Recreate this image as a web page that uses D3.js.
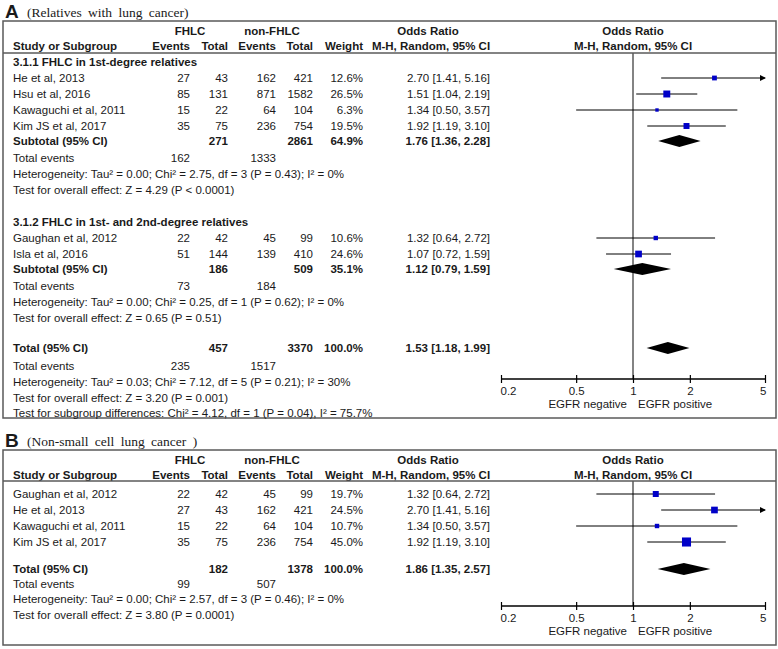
<!DOCTYPE html>
<html><head><meta charset="utf-8">
<script src="https://cdn.jsdelivr.net/npm/d3@7"></script>
<style>
body{margin:0;background:#fff;}
text{font-family:"Liberation Sans",Arial,sans-serif;fill:#1a1a1a;}
</style></head>
<body><svg id="c" width="778" height="649"></svg>
<script>
// ---- Panel A data ----
const studiesA1 = ["He et al, 2013","Hsu et al, 2016","Kawaguchi et al, 2011","Kim JS et al, 2017"];
const evFA1 = [27,85,15,35];
const totFA1 = [43,131,22,75];
const evNA1 = [162,871,64,236];
const totNA1 = [421,1582,104,754];
const weightA1 = [12.6,26.5,6.3,19.5];
const orA1 = [2.70,1.51,1.34,1.92];
const loA1 = [1.41,1.04,0.50,1.19];
const hiA1 = [5.16,2.19,3.57,3.10];
const subA1 = {tf:271, tn:2861, w:64.9, or:1.76, lo:1.36, hi:2.28, ef:162, en:1333};
const footA1 = ["Heterogeneity: Tau\u00b2 = 0.00; Chi\u00b2 = 2.75, df = 3 (P = 0.43); I\u00b2 = 0%","Test for overall effect: Z = 4.29 (P < 0.0001)"];

const studiesA2 = ["Gaughan et al, 2012","Isla et al, 2016"];
const evFA2 = [22,51];
const totFA2 = [42,144];
const evNA2 = [45,139];
const totNA2 = [99,410];
const weightA2 = [10.6,24.6];
const orA2 = [1.32,1.07];
const loA2 = [0.64,0.72];
const hiA2 = [2.72,1.59];
const subA2 = {tf:186, tn:509, w:35.1, or:1.12, lo:0.79, hi:1.59, ef:73, en:184};
const footA2 = ["Heterogeneity: Tau\u00b2 = 0.00; Chi\u00b2 = 0.25, df = 1 (P = 0.62); I\u00b2 = 0%","Test for overall effect: Z = 0.65 (P = 0.51)"];

const totalA = {tf:457, tn:3370, w:100.0, or:1.53, lo:1.18, hi:1.99, ef:235, en:1517};
const footA = ["Heterogeneity: Tau\u00b2 = 0.03; Chi\u00b2 = 7.12, df = 5 (P = 0.21); I\u00b2 = 30%","Test for overall effect: Z = 3.20 (P = 0.001)","Test for subgroup differences: Chi\u00b2 = 4.12, df = 1 (P = 0.04), I\u00b2 = 75.7%"];

// ---- Panel B data ----
const studiesB = ["Gaughan et al, 2012","He et al, 2013","Kawaguchi et al, 2011","Kim JS et al, 2017"];
const evFB = [22,27,15,35];
const totFB = [42,43,22,75];
const evNB = [45,162,64,236];
const totNB = [99,421,104,754];
const weightB = [19.7,24.5,10.7,45.0];
const orB = [1.32,2.70,1.34,1.92];
const loB = [0.64,1.41,0.50,1.19];
const hiB = [2.72,5.16,3.57,3.10];
const totalB = {tf:182, tn:1378, w:100.0, or:1.86, lo:1.35, hi:2.57, ef:99, en:507};
const footB = ["Heterogeneity: Tau\u00b2 = 0.00; Chi\u00b2 = 2.57, df = 3 (P = 0.46); I\u00b2 = 0%","Test for overall effect: Z = 3.80 (P = 0.0001)"];

const tickVals = [0.2,0.5,1,2,5];
const axisLabels = ["EGFR negative","EGFR positive"];

// ---- drawing ----
const svg = d3.select("#c");
const FS = 11.5;
const col = {name:13, ef:190, tf:228, en:276, tn:313, w:363, or:490};
const x = d3.scaleLog().domain([0.2,5]).range([501,765]);
const lineCol = "#5a5a5a";
const fmt2 = d3.format(".2f");
const fmtW = d3.format(".1f");

function txt(xx, yc, s, anchor, bold){
  svg.append("text").attr("x",xx).attr("y",yc+4).attr("text-anchor",anchor||"start")
    .attr("font-size",FS).attr("font-weight",bold?"bold":"normal").text(s);
}
function orStr(o,l,h){return fmt2(o)+" ["+fmt2(l)+", "+fmt2(h)+"]";}

function study(yc, name, ef, tf, en, tn, w, o, l, h){
  txt(col.name,yc,name);
  txt(col.ef,yc,ef,"end"); txt(col.tf,yc,tf,"end");
  txt(col.en,yc,en,"end"); txt(col.tn,yc,tn,"end");
  txt(col.w,yc,fmtW(w)+"%","end");
  txt(col.or,yc,orStr(o,l,h),"end");
  const hiC = Math.min(h,5);
  svg.append("line").attr("x1",x(l)).attr("x2",x(hiC)).attr("y1",yc).attr("y2",yc)
    .attr("stroke","#000").attr("stroke-width",1);
  if(h>5){
    const xe = x(5);
    svg.append("path").attr("d",`M${xe+1},${yc} L${xe-5},${yc-3} L${xe-5},${yc+3} Z`).attr("fill","#000");
  }
  const s = 1.35*Math.sqrt(w);
  svg.append("rect").attr("x",x(o)-s/2).attr("y",yc-s/2).attr("width",s).attr("height",s).attr("fill","#0000c8");
}
function summary(yc, label, d){
  txt(col.name,yc,label,"start",true);
  txt(col.tf,yc,d.tf,"end",true); txt(col.tn,yc,d.tn,"end",true);
  txt(col.w,yc,fmtW(d.w)+"%","end",true);
  txt(col.or,yc,orStr(d.or,d.lo,d.hi),"end",true);
  svg.append("path").attr("d",`M${x(d.lo)},${yc} L${x(d.or)},${yc-6} L${x(d.hi)},${yc} L${x(d.or)},${yc+6} Z`).attr("fill","#000");
}
function totEvents(yc, d){
  txt(col.name,yc,"Total events"); txt(col.ef,yc,d.ef,"end"); txt(col.en,yc,d.en,"end");
}
function header(top, lineY, letter, sub){
  svg.append("text").attr("x",5).attr("y",top-3).attr("font-size",19).attr("font-weight","bold").text(letter);
  svg.append("text").attr("x",27).attr("y",top-4).attr("font-size",13.5).attr("word-spacing","3px")
    .style("font-family","'Liberation Serif','Times New Roman',serif").text(sub);
  const r1 = top+10, r2 = top+25;
  txt(190,r1,"FHLC","middle",true);
  txt(272,r1,"non-FHLC","middle",true);
  txt(428,r1,"Odds Ratio","middle",true);
  txt(633,r1,"Odds Ratio","middle",true);
  txt(col.name,r2,"Study or Subgroup","start",true);
  txt(col.ef,r2,"Events","end",true); txt(col.tf,r2,"Total","end",true);
  txt(col.en,r2,"Events","end",true); txt(col.tn,r2,"Total","end",true);
  txt(col.w,r2,"Weight","end",true);
  txt(431,r2,"M-H, Random, 95% CI","middle",true);
  txt(633,r2,"M-H, Random, 95% CI","middle",true);
  svg.append("line").attr("x1",3).attr("x2",776).attr("y1",lineY).attr("y2",lineY).attr("stroke",lineCol).attr("stroke-width",1.5);
}
function box(top,bottom){
  svg.append("rect").attr("x",3).attr("y",top).attr("width",773).attr("height",bottom-top)
    .attr("fill","none").attr("stroke",lineCol).attr("stroke-width",1.5);
}
function axis(yAxis, lineTop){
  svg.append("line").attr("x1",x(1)).attr("x2",x(1)).attr("y1",lineTop).attr("y2",yAxis).attr("stroke",lineCol).attr("stroke-width",1.5);
  const g = svg.append("g").attr("transform",`translate(0,${yAxis})`)
    .call(d3.axisBottom(x).tickValues(tickVals).tickFormat(d=>String(d)).tickSizeOuter(0).tickSize(4).tickPadding(4));
  g.select(".domain").attr("stroke","#000").attr("stroke-width",1.5).attr("d",`M${x(0.2)},0H${x(5)}`);
  g.selectAll(".tick line").attr("y1",-4).attr("y2",4).attr("stroke","#000").attr("stroke-width",1.2);
  g.selectAll(".tick text").attr("font-size",FS).attr("fill","#1a1a1a").attr("font-family","'Liberation Sans',Arial,sans-serif")
    .attr("text-anchor",(d,i)=> i===0?"start":(i===tickVals.length-1?"end":"middle"))
    .attr("dx",(d,i)=> i===0?-1:(i===tickVals.length-1?1:0));
  txt(x(1)-6,yAxis+25,axisLabels[0],"end");
  txt(x(1)+5,yAxis+25,axisLabels[1],"start");
}

// Panel A
box(21,418);
header(21,53,"A","(Relatives with lung cancer)");
axis(379,53);
txt(col.name,62,"3.1.1 FHLC in 1st-degree relatives","start",true);
const rowsA1 = [78,94,110,126];
studiesA1.forEach((n,i)=>study(rowsA1[i],n,evFA1[i],totFA1[i],evNA1[i],totNA1[i],weightA1[i],orA1[i],loA1[i],hiA1[i]));
summary(141,"Subtotal (95% CI)",subA1);
totEvents(158,subA1);
footA1.forEach((s,i)=>txt(col.name,174+16*i,s));
txt(col.name,222,"3.1.2 FHLC in 1st- and 2nd-degree relatives","start",true);
const rowsA2 = [238,254];
studiesA2.forEach((n,i)=>study(rowsA2[i],n,evFA2[i],totFA2[i],evNA2[i],totNA2[i],weightA2[i],orA2[i],loA2[i],hiA2[i]));
summary(269,"Subtotal (95% CI)",subA2);
totEvents(286,subA2);
footA2.forEach((s,i)=>txt(col.name,302+16*i,s));
summary(348,"Total (95% CI)",totalA);
totEvents(366,totalA);
footA.forEach((s,i)=>txt(col.name,382+15.7*i,s));

// Panel B
box(450,645);
header(450,481,"B","(Non-small cell lung cancer )");
axis(606,481);
const rowsB = [494,510,526,542];
studiesB.forEach((n,i)=>study(rowsB[i],n,evFB[i],totFB[i],evNB[i],totNB[i],weightB[i],orB[i],loB[i],hiB[i]));
summary(569,"Total (95% CI)",totalB);
totEvents(584,totalB);
footB.forEach((s,i)=>txt(col.name,599+15.5*i,s));
</script></body></html>
